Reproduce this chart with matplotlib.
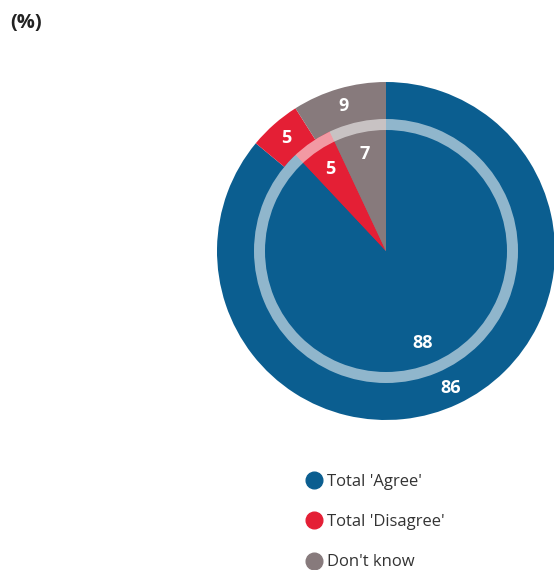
import matplotlib
matplotlib.use("Agg")
import matplotlib.pyplot as plt
from matplotlib.lines import Line2D
from matplotlib.patches import Wedge

plt.rcParams["font.family"] = ["Open Sans", "DejaVu Sans"]

# data
categories = ["Total 'Agree'", "Total 'Disagree'", "Don't know"]
outer_values = [86, 5, 9]   # outer ring
inner_values = [88, 5, 7]   # inner disc
colors = ["#0b5e90", "#e41f35", "#877a7c"]

W, H = 554, 570
fig = plt.figure(figsize=(W / 100, H / 100), dpi=100)
ax = fig.add_axes([0, 0, 1, 1])

cx, cy = 386, H - 251
r_out, r_ring_out, r_ring_in = 169, 132, 121

label_kw = dict(color="white", fontsize=13, fontweight="bold")

ax.pie(outer_values, colors=colors, radius=r_out, center=(cx, cy),
       startangle=90, counterclock=False, autopct="%.0f",
       pctdistance=151 / r_out, textprops=label_kw,
       wedgeprops=dict(linewidth=0))
ax.pie(inner_values, colors=colors, radius=r_ring_out, center=(cx, cy),
       startangle=90, counterclock=False, autopct="%.0f",
       pctdistance=99 / r_ring_out, textprops=label_kw,
       wedgeprops=dict(linewidth=0))

# translucent separating ring
ax.add_patch(Wedge((cx, cy), r_ring_out, 0, 360, width=r_ring_out - r_ring_in,
                   facecolor="white", alpha=0.55, linewidth=0))

ax.set_xlim(0, W)
ax.set_ylim(0, H)
ax.set_aspect("equal")
ax.axis("off")

fig.text(10 / W, 1 - 23 / H, "(%)", fontsize=14.5, fontweight="bold",
         color="#222222", va="center", ha="left")

handles = [Line2D([], [], marker="o", linestyle="none", markersize=12,
                  markerfacecolor=c, markeredgecolor=c) for c in colors]
fig.legend(handles, categories, loc="upper left",
           bbox_to_anchor=(298 / W, 1 - 467 / H), frameon=False,
           fontsize=12, labelspacing=1.46, handletextpad=0.25,
           handlelength=1.1, labelcolor="#333333", borderaxespad=0)

fig.savefig("out.png", dpi=100)
